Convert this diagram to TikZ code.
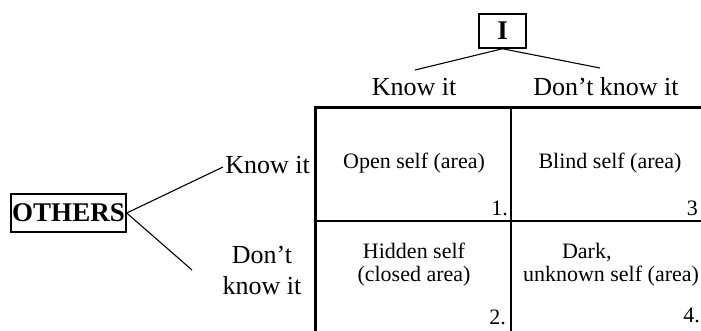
\documentclass[tikz,border=0pt]{standalone}
\usepackage{fontspec}
\setmainfont{Liberation Serif}
\tikzset{
  lbl/.style={font=\fontsize{26}{31}\selectfont, inner sep=0pt, align=center},
  cell/.style={font=\fontsize{22}{23}\selectfont, inner sep=0pt, align=center},
  tagbox/.style={draw, line width=1.5pt, inner sep=0pt,
    font=\fontsize{27}{30}\selectfont\bfseries}
}
\begin{document}
\begin{tikzpicture}[x=1pt, y=-1pt]
                \useasboundingbox (0,0) rectangle (701,330);
                \clip (0,0) rectangle (701,330);

                % Define node positions
                \node[tagbox, minimum width=47, minimum height=34] (I) at (502.5,31) {I};
                \node[tagbox, minimum width=115, minimum height=38] (O) at (68.5,213) {OTHERS};
                \node[lbl, anchor=base] (Ik) at (414,95) {Know it};
                \node[lbl, anchor=base] (Id) at (606,95) {Don't know it};
                \node[lbl, anchor=base east] (Ok) at (310,173) {Know it};
                \node[lbl] (Od) at (262,270) {Don't\\know it};
                \coordinate (ik) at (415,70); \coordinate (id) at (600,68);
                \coordinate (ok) at (223,167); \coordinate (od) at (192,270);

                % Draw branches
                \draw[line width=1.1pt] (I.south) -- (ik);
                \draw[line width=1.1pt] (I.south) -- (id);
                \draw[line width=1.1pt] (O.east) -- (ok);
                \draw[line width=1.1pt] (O.east) -- (od);

                % Window grid
                \draw[line width=3pt] (315,340) -- (315,107) -- (710,107);
                \draw[line width=1.3pt] (511,107) -- (511,340);
                \draw[line width=1.3pt] (315,221) -- (710,221);

                % Areas
                \node[cell, anchor=base] (c1) at (414,168) {Open self (area)};
                \node[cell, anchor=base] (c3) at (610,168) {Blind self (area)};
                \node[cell] (c2) at (414,265) {Hidden self\\(closed area)};
                \node[cell] (c4) at (611,265) {Dark,\hspace*{2.2em}\\unknown self (area)};
                \node[cell, anchor=base east] (n1) at (508,215) {1.};
                \node[cell, anchor=base east] (n3) at (698,215) {3};
                \node[cell, anchor=base east] (n2) at (506,324) {2.};
                \node[cell, anchor=base east] (n4) at (700,322) {4.};
            \end{tikzpicture}
\end{document}
